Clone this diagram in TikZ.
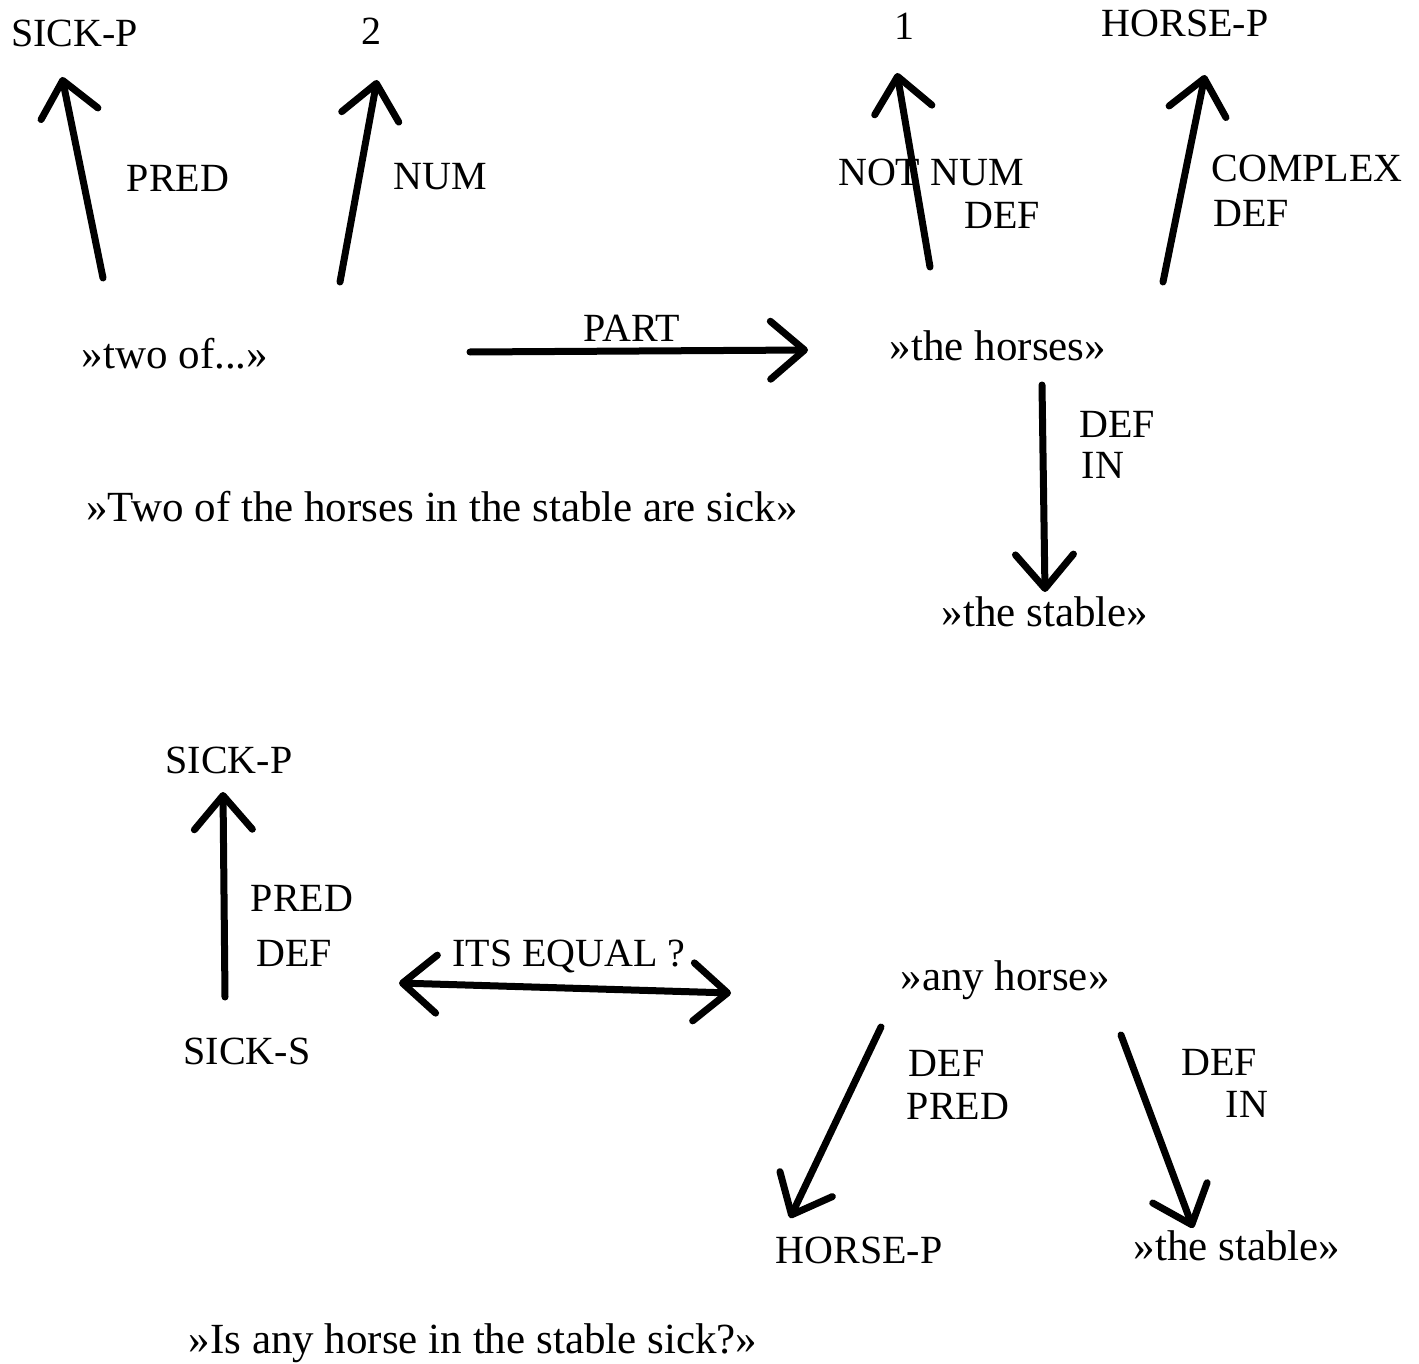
\documentclass[tikz,border=0pt]{standalone}
\usepackage{fontspec}
\setmainfont{Liberation Serif}
\usetikzlibrary{arrows.meta}
\begin{document}
\begin{tikzpicture}[x=0.5pt,y=-0.5pt,
  lbl/.style={inner sep=0pt,anchor=base,font=\fontsize{20}{24}\selectfont},
  phrase/.style={lbl,font=\fontsize{21.5}{26}\selectfont},
  arr/.style={line width=3.5pt,line cap=round,
    -{Straight Barb[length=17pt,width=29pt,round]}},
  darr/.style={line width=3.5pt,line cap=round,
    {Straight Barb[length=17pt,width=29pt,round]}-{Straight Barb[length=17pt,width=29pt,round]}}]
\useasboundingbox (0,0) rectangle (1419,1364);

% ---- first sentence ----
\node[lbl] (sickp1) at (74.5,47) {SICK-P};
\node[lbl] (two) at (371,45) {2};
\node[lbl] (one) at (904,40) {1};
\node[lbl] (horsep1) at (1185,37) {HORSE-P};

\node[lbl] (pred1) at (178,192) {PRED};
\node[lbl] (num1) at (440,190) {NUM};
\node[lbl] (notnum) at (931,186) {NOT NUM};
\node[lbl] (def1) at (1002,229) {DEF};
\node[lbl] (complex) at (1307,182) {COMPLEX};
\node[lbl] (def2) at (1251,227) {DEF};

\node[phrase] (twoof) at (175,368) {»two of...»};
\node[lbl] (part) at (632,342) {PART};
\node[phrase] (horses) at (998,360) {»the horses»};
\node[lbl] (def3) at (1117,437) {DEF};
\node[lbl] (in1) at (1103,478) {IN};
\node[phrase] (stable1) at (1045,626) {»the stable»};
\node[phrase] (cap1) at (442,521) {»Two of the horses in the stable are sick»};

\coordinate (a1s) at (103,278);  \coordinate (a1e) at (62,77);
\coordinate (a2s) at (340,282);  \coordinate (a2e) at (377,80);
\coordinate (a3s) at (930,267);  \coordinate (a3e) at (897,73);
\coordinate (a4s) at (1163,282); \coordinate (a4e) at (1205,75);
\coordinate (a5s) at (470,352);  \coordinate (a5e) at (808,350);
\coordinate (a6s) at (1042,385); \coordinate (a6e) at (1045,592);

\draw[arr] (a1s) -- (a1e);
\draw[arr] (a2s) -- (a2e);
\draw[arr] (a3s) -- (a3e);
\draw[arr] (a4s) -- (a4e);
\draw[arr] (a5s) -- (a5e);
\draw[arr] (a6s) -- (a6e);

% ---- second sentence ----
\node[lbl] (sickp2) at (229,773) {SICK-P};
\node[lbl] (pred2) at (302,911) {PRED};
\node[lbl] (def4) at (294,966) {DEF};
\node[lbl] (sicks) at (247,1064) {SICK-S};
\node[lbl] (equal) at (569,966) {ITS EQUAL ?};
\node[phrase] (anyhorse) at (1005,990) {»any horse»};
\node[lbl] (def5) at (946.5,1076) {DEF};
\node[lbl] (pred3) at (958,1119) {PRED};
\node[lbl] (def6) at (1219,1075) {DEF};
\node[lbl] (in2) at (1247,1117) {IN};
\node[lbl] (horsep2) at (859,1263) {HORSE-P};
\node[phrase] (stable2) at (1237,1260) {»the stable»};
\node[phrase] (cap2) at (473,1353) {»Is any horse in the stable sick?»};

\coordinate (b1s) at (225,997);  \coordinate (b1e) at (223,792);
\coordinate (b2s) at (399,983);  \coordinate (b2e) at (731,993);
\coordinate (b3s) at (881,1027); \coordinate (b3e) at (790,1218);
\coordinate (b4s) at (1121,1035); \coordinate (b4e) at (1193,1228);

\draw[arr] (b1s) -- (b1e);
\draw[darr] (b2s) -- (b2e);
\draw[arr] (b3s) -- (b3e);
\draw[arr] (b4s) -- (b4e);
\end{tikzpicture}
\end{document}
